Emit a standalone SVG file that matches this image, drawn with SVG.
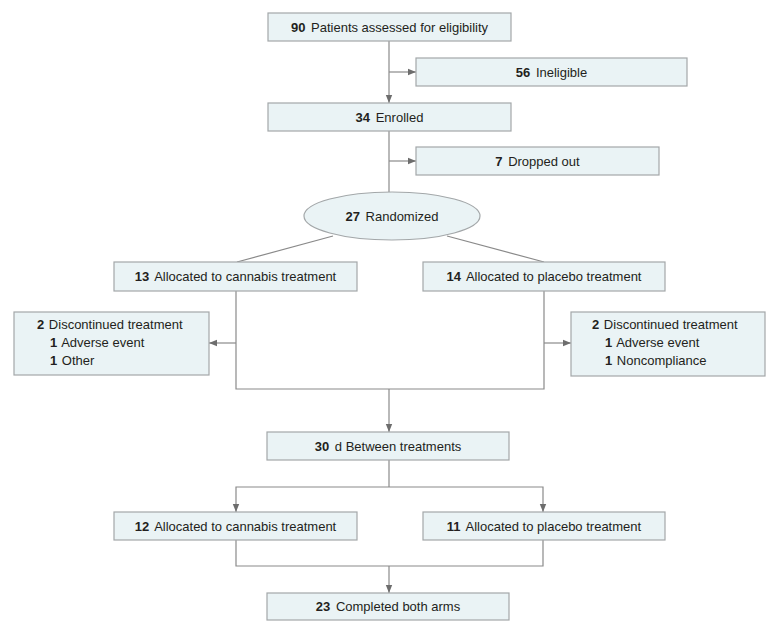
<svg xmlns="http://www.w3.org/2000/svg" width="780" height="634" viewBox="0 0 780 634">
<style>
.box{fill:#eaf3f5;stroke:#a3a7a9;stroke-width:1.2}
.t{font-family:"Liberation Sans",Arial,sans-serif;font-size:13px;fill:#231f20}
.c{text-anchor:middle}
.b{font-weight:bold}
.ln{fill:none;stroke:#8a8a8a;stroke-width:1.2}
.ar{fill:none;stroke:#8a8a8a;stroke-width:1.2;marker-end:url(#ah)}
</style>
<defs>
<marker id="ah" viewBox="0 0 10 10" refX="10" refY="5" markerWidth="8" markerHeight="8" markerUnits="userSpaceOnUse" orient="auto">
<path d="M0,1 L10,5 L0,9 Z" fill="#6d6d6d"/>
</marker>
</defs>
<rect width="780" height="634" fill="#ffffff"/>
<g id="connectors">
<line class="ar" x1="389" y1="41" x2="389" y2="103"/>
<line class="ar" x1="389" y1="72" x2="416" y2="72"/>
<line class="ln" x1="389" y1="131" x2="389" y2="192"/>
<line class="ar" x1="389" y1="161" x2="416" y2="161"/>
<line class="ln" x1="333" y1="236" x2="237" y2="262"/>
<line class="ln" x1="447" y1="236" x2="544" y2="262"/>
<polyline class="ln" points="236,291 236,389 544,389 544,291"/>
<line class="ar" x1="236" y1="343" x2="209" y2="343"/>
<line class="ar" x1="544" y1="343" x2="571" y2="343"/>
<line class="ar" x1="389" y1="389" x2="389" y2="432"/>
<line class="ln" x1="389" y1="460" x2="389" y2="487"/>
<polyline class="ar" points="389,487 236,487 236,512"/>
<polyline class="ar" points="389,487 543,487 543,512"/>
<polyline class="ln" points="236,540 236,566 543,566 543,540"/>
<line class="ar" x1="389" y1="566" x2="389" y2="593"/>
</g>
<g id="assessed">
<rect class="box" x="268" y="13" width="243" height="28"/>
<text class="t c" x="389.5" y="32"><tspan class="b">90</tspan> <tspan dx="2">Patients assessed for eligibility</tspan></text>
</g>
<g id="ineligible">
<rect class="box" x="416" y="58" width="271" height="28"/>
<text class="t c" x="551.5" y="77"><tspan class="b">56</tspan> <tspan dx="2">Ineligible</tspan></text>
</g>
<g id="enrolled">
<rect class="box" x="268" y="103" width="243" height="28"/>
<text class="t c" x="389.5" y="122"><tspan class="b">34</tspan> <tspan dx="2">Enrolled</tspan></text>
</g>
<g id="dropped">
<rect class="box" x="416" y="147" width="243" height="28"/>
<text class="t c" x="537.5" y="166"><tspan class="b">7</tspan> <tspan dx="2">Dropped out</tspan></text>
</g>
<g id="randomized">
<ellipse class="box" cx="392" cy="216" rx="88" ry="24"/>
<text class="t c" x="392" y="221"><tspan class="b">27</tspan> <tspan dx="2">Randomized</tspan></text>
</g>
<g id="cannabis1">
<rect class="box" x="114" y="262" width="243" height="29"/>
<text class="t c" x="235.5" y="281"><tspan class="b">13</tspan> <tspan dx="2">Allocated to cannabis treatment</tspan></text>
</g>
<g id="placebo1">
<rect class="box" x="423" y="262" width="242" height="29"/>
<text class="t c" x="544" y="281"><tspan class="b">14</tspan> <tspan dx="2">Allocated to placebo treatment</tspan></text>
</g>
<g id="disc-left">
<rect class="box" x="14" y="312" width="195" height="63"/>
<text class="t" x="37" y="329"><tspan class="b">2</tspan> <tspan dx="1">Discontinued treatment</tspan></text>
<text class="t" x="50" y="347"><tspan class="b">1</tspan> <tspan dx="1">Adverse event</tspan></text>
<text class="t" x="50" y="365"><tspan class="b">1</tspan> <tspan dx="1">Other</tspan></text>
</g>
<g id="disc-right">
<rect class="box" x="571" y="312" width="194" height="64"/>
<text class="t" x="592" y="329"><tspan class="b">2</tspan> <tspan dx="1">Discontinued treatment</tspan></text>
<text class="t" x="605" y="347"><tspan class="b">1</tspan> <tspan dx="1">Adverse event</tspan></text>
<text class="t" x="605" y="365"><tspan class="b">1</tspan> <tspan dx="1">Noncompliance</tspan></text>
</g>
<g id="washout">
<rect class="box" x="267" y="432" width="242" height="28"/>
<text class="t c" x="388" y="451"><tspan class="b">30</tspan> <tspan dx="2">d Between treatments</tspan></text>
</g>
<g id="cannabis2">
<rect class="box" x="114" y="512" width="243" height="28"/>
<text class="t c" x="235.5" y="531"><tspan class="b">12</tspan> <tspan dx="2">Allocated to cannabis treatment</tspan></text>
</g>
<g id="placebo2">
<rect class="box" x="423" y="512" width="242" height="28"/>
<text class="t c" x="544" y="531"><tspan class="b">11</tspan> <tspan dx="2">Allocated to placebo treatment</tspan></text>
</g>
<g id="completed">
<rect class="box" x="267" y="593" width="242" height="27"/>
<text class="t c" x="388" y="611"><tspan class="b">23</tspan> <tspan dx="2">Completed both arms</tspan></text>
</g>
</svg>
